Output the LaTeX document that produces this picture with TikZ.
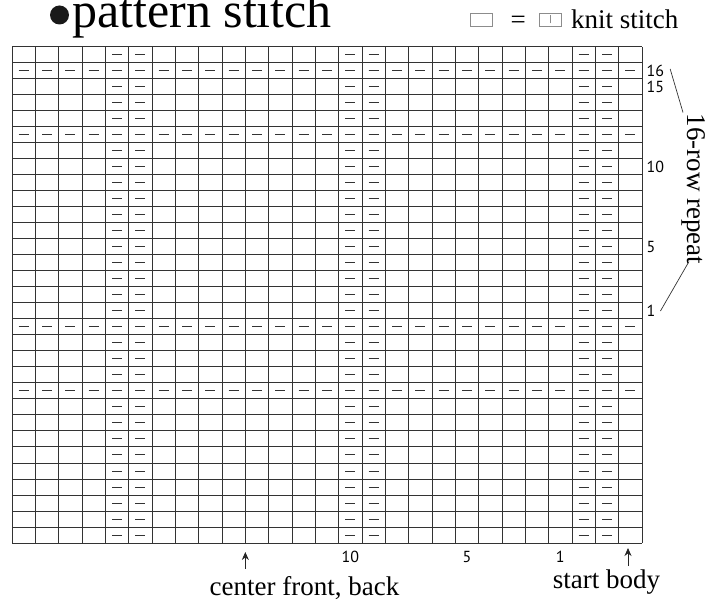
\documentclass[tikz,border=0pt]{standalone}
\usepackage{fontspec}
\setmainfont{Liberation Serif}
\newfontfamily\numfont{PT Sans}
\usetikzlibrary{arrows.meta,positioning}
\tikzset{
  gridline/.style={draw=black!80,line width=1pt},
  purlmark/.style={draw=black!80,line width=1pt},
  keybox/.style={draw=black!45,line width=0.8pt,minimum width=22pt,
    minimum height=13pt,inner sep=0pt},
  rowlabel/.style={font=\numfont\fontsize{16}{18}\selectfont,inner sep=2pt},
  notetext/.style={font=\fontsize{27}{30}\selectfont,inner sep=3pt},
  notearrow/.style={-{Stealth[length=8pt,width=7pt]},draw=black!85,line width=0.8pt},
  noteline/.style={draw=black!80,line width=0.7pt}
}

\begin{document}
\begin{tikzpicture}[x=1pt,y=1pt]
  \useasboundingbox (0,0) rectangle (707,-601);
  % title and key
  \node[circle,fill=black!90,minimum size=19pt,inner sep=0pt] (dot) at (59.5,-15) {};
  \node[anchor=base west,inner sep=0pt,font=\fontsize{50}{55}\selectfont] (title) at (72,-28) {pattern stitch};
  \node[keybox] (blank) at (481,-19.5) {};
  \node[right=18pt of blank,inner sep=0pt,yshift=-3pt,font=\fontsize{27}{30}\selectfont] (eq) {=};
  \node[keybox,right=13pt of blank.east -| eq.east] (knit) {\textcolor{black!45}{\rule{0.8pt}{8pt}}};
  \node[right=9pt of knit,inner sep=0pt,font=\fontsize{27}{30}\selectfont] (knitname) {knit stitch};

  % chart
  \begin{scope}[shift={(12,-47)},x=23.3333pt,y=-16pt]
    \foreach \c in {0,...,27} \draw[gridline] (\c,0) -- (\c,31);
    \foreach \r in {0,...,31} \draw[gridline] (0,\r) -- (27,\r);
    % purl columns
    \foreach \c in {5,6,15,16,25,26}
      \foreach \r in {1,...,31}
        \draw[purlmark] (\c-0.5,\r-0.5) +(-5pt,0) -- +(5pt,0);
    % purl rows
    \foreach \r in {2,6,18,22}
      \foreach \c in {1,...,27}
        \draw[purlmark] (\c-0.5,\r-0.5) +(-5pt,0) -- +(5pt,0);
    % row numbers
    \foreach \n/\r in {16/2,15/3,10/8,5/13,1/17}
      \node[rowlabel,anchor=west] (r\n) at (27.1,\r-0.5) {\n};
    % stitch numbers
    \foreach \n/\c in {10/15,5/20,1/24}
      \node[rowlabel] (s\n) at (\c-0.5,31.85) {\n};
    \coordinate (cfmark) at (10,31);
    \coordinate (sbmark) at (26.4,31);
  \end{scope}

  % notes
  \node[notetext,anchor=base] (cf) at (304.5,-595) {center front, back};
  \node[notetext,anchor=base] (sb) at (606.5,-588) {start body};
  \draw[notearrow,shorten <=4pt,shorten >=9pt] (cf.north -| cfmark) -- (cfmark);
  \draw[notearrow,shorten >=5pt] (sb.north -| sbmark) -- (sbmark);
  \node[notetext,rotate=-90] (rep) at (694,-189) {16-row repeat};
  \draw[noteline] ([shift={(4pt,2pt)}]r16.east) -- ([shift={(4pt,-2pt)}]rep.south west);
  \draw[noteline] ([shift={(10pt,6pt)}]rep.south east) -- ([shift={(3pt,0pt)}]r1.east);
\end{tikzpicture}
\end{document}
